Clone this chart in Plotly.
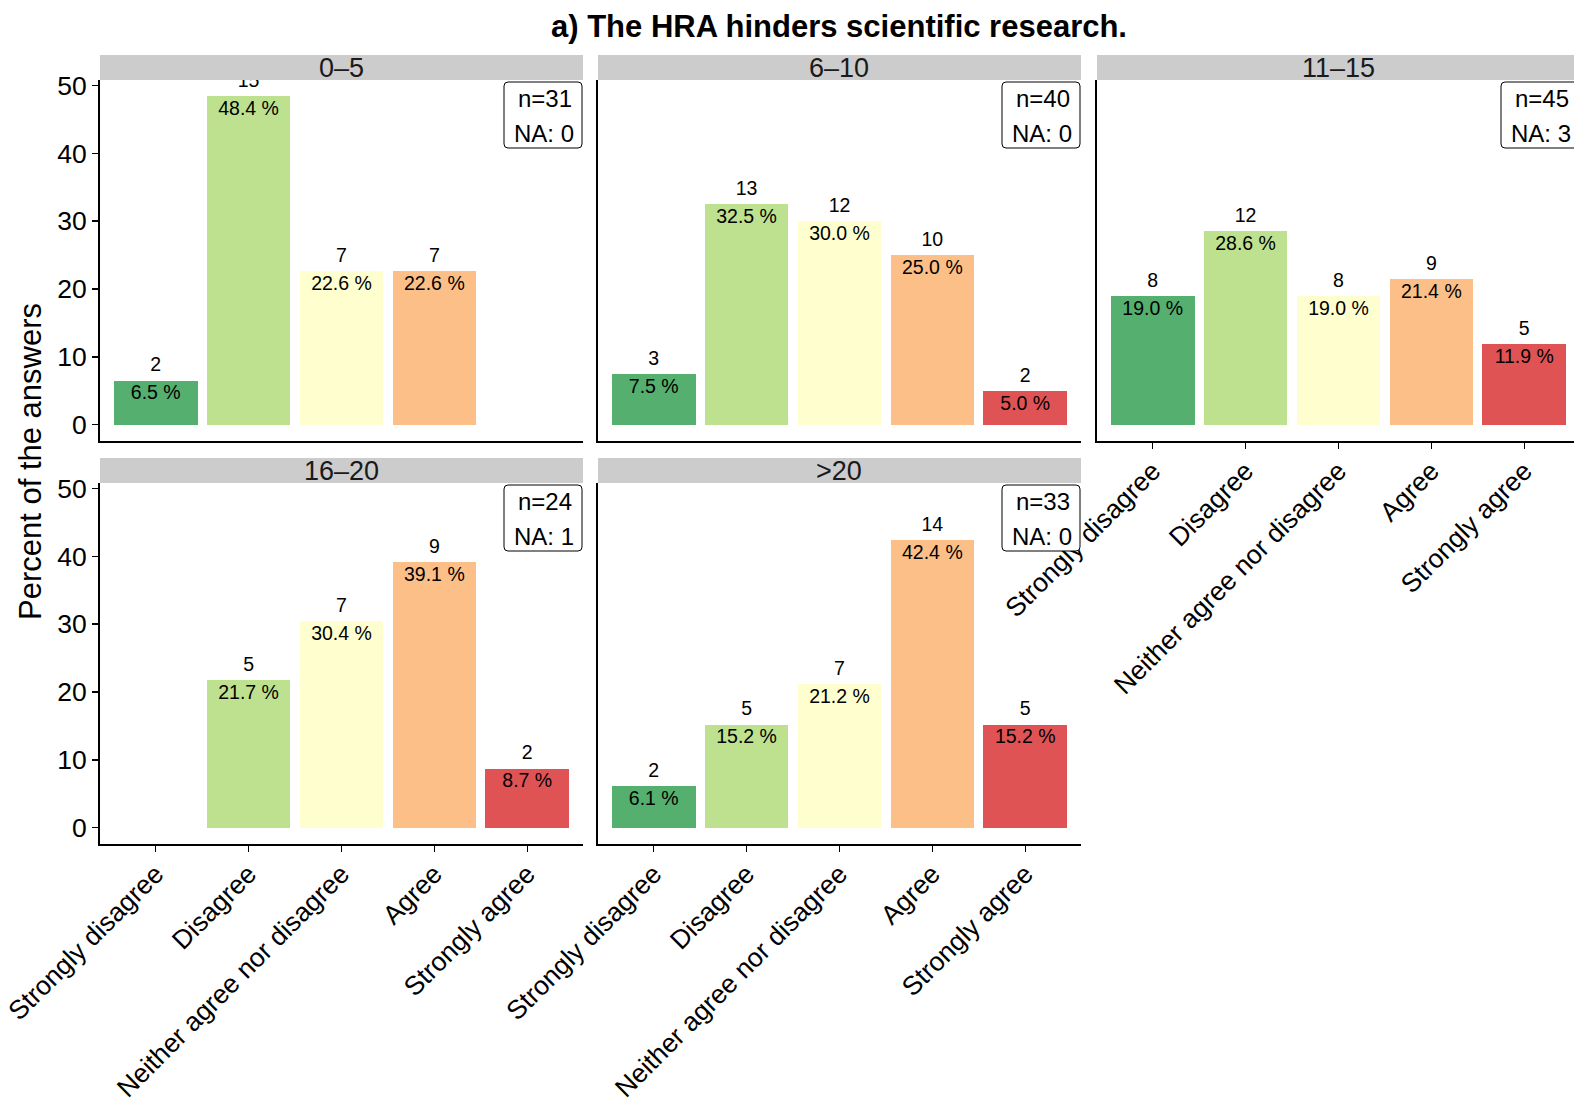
import plotly.graph_objects as go

W, H = 1574, 1102

categories = ["Strongly disagree", "Disagree", "Neither agree nor disagree", "Agree", "Strongly agree"]
colors = ["#55AF6E", "#BEE18F", "#FEFECE", "#FCBF87", "#E05355"]
panels = ["0–5", "6–10", "11–15", "16–20", ">20"]

counts_0_5 = [2, 15, 7, 7, None]
pct_0_5 = [6.5, 48.4, 22.6, 22.6, None]
counts_6_10 = [3, 13, 12, 10, 2]
pct_6_10 = [7.5, 32.5, 30.0, 25.0, 5.0]
counts_11_15 = [8, 12, 8, 9, 5]
pct_11_15 = [19.0, 28.6, 19.0, 21.4, 11.9]
counts_16_20 = [None, 5, 7, 9, 2]
pct_16_20 = [None, 21.7, 30.4, 39.1, 8.7]
counts_gt20 = [2, 5, 7, 14, 5]
pct_gt20 = [6.1, 15.2, 21.2, 42.4, 15.2]

n_total = [31, 40, 45, 24, 33]
n_na = [0, 0, 3, 1, 0]

all_counts = [counts_0_5, counts_6_10, counts_11_15, counts_16_20, counts_gt20]
all_pct = [pct_0_5, pct_6_10, pct_11_15, pct_16_20, pct_gt20]

title_text = "a) The HRA hinders scientific research."
y_title = "Percent of the answers"
y_ticks = [0, 10, 20, 30, 40, 50]

FONT = "Liberation Sans, Arial, sans-serif"
TICK_SIZE = 26.5
STRIP_SIZE = 27
LABEL_SIZE = 19.5
BOX_SIZE = 24


def X(px):
    return px / W


def Y(py):
    return 1 - py / H


# panel pixel geometry
col_lr = [(100, 583), (598, 1081), (1097, 1580)]
row_tb = [(80, 441), (483, 844)]
panel_pos = [(0, 0), (0, 1), (0, 2), (1, 0), (1, 1)]
units_per_px_x = 5.2 / 483.0

fig = go.Figure()
shapes = []
annotations = []

ymax = max(v for p in all_pct for v in p if v is not None)
yr = [-0.05 * ymax, ymax * 1.05]
upp_y = (yr[1] - yr[0]) / (row_tb[0][1] - row_tb[0][0])

for i, name in enumerate(panels):
    r, c = panel_pos[i]
    L, R = col_lr[c]
    T, B = row_tb[r]
    Rv = min(R, W)
    xa = "x" if i == 0 else f"x{i+1}"
    ya = "y" if i == 0 else f"y{i+1}"
    xs = [k + 1 for k in range(5)]
    pct = all_pct[i]
    cnt = all_counts[i]
    fig.add_trace(go.Bar(
        x=xs, y=pct, width=0.9, marker=dict(color=colors, line=dict(width=0)),
        xaxis=xa, yaxis=ya, showlegend=False, hoverinfo="skip"))
    tx = [x for x, v in zip(xs, pct) if v is not None]
    ty = [v for v in pct if v is not None]
    fig.add_trace(go.Scatter(
        x=tx, y=[v + 14 * upp_y for v in ty], mode="text",
        text=[str(v) for v in cnt if v is not None],
        textposition="middle center", textfont=dict(size=LABEL_SIZE, color="black", family=FONT),
        xaxis=xa, yaxis=ya, showlegend=False, hoverinfo="skip", cliponaxis=True))
    fig.add_trace(go.Scatter(
        x=tx, y=[v - 14 * upp_y for v in ty], mode="text",
        text=[f"{v:.1f} %" for v in ty],
        textposition="middle center", textfont=dict(size=LABEL_SIZE, color="black", family=FONT),
        xaxis=xa, yaxis=ya, showlegend=False, hoverinfo="skip", cliponaxis=True))

    xr_hi = 0.4 + (Rv - L) * units_per_px_x
    show_xlab = (r == 1) or (i == 2)
    xkey = "xaxis" if i == 0 else f"xaxis{i+1}"
    ykey = "yaxis" if i == 0 else f"yaxis{i+1}"
    fig.update_layout(**{
        xkey: dict(domain=[X(L), X(Rv)], anchor=ya, range=[0.4, xr_hi], automargin=False,
                   tickvals=xs, ticktext=categories,
                   showticklabels=show_xlab, ticks="outside" if show_xlab else "",
                   ticklen=6, tickwidth=1.5, tickcolor="black", tickangle=-45,
                   ticklabelstandoff=-4,
                   tickfont=dict(size=TICK_SIZE, color="black", family=FONT),
                   showline=True, linecolor="black", linewidth=2,
                   showgrid=False, zeroline=False, fixedrange=True),
        ykey: dict(domain=[Y(B), Y(T)], anchor=xa, range=yr, automargin=False,
                   tickvals=y_ticks, showticklabels=(c == 0),
                   ticks="outside" if c == 0 else "", ticklen=6, tickwidth=1.5, tickcolor="black",
                   tickfont=dict(size=TICK_SIZE, color="black", family=FONT),
                   showline=True, linecolor="black", linewidth=2,
                   showgrid=False, zeroline=False, fixedrange=True),
    })

    # strip
    shapes.append(dict(type="rect", xref="paper", yref="paper",
                       x0=X(L), x1=X(Rv), y0=Y(T), y1=Y(T - 25),
                       fillcolor="#CCCCCC", line=dict(width=0), layer="below"))
    annotations.append(dict(text=name, xref="paper", yref="paper",
                            x=X((L + R) / 2), y=Y(T - 12.5), showarrow=False,
                            xanchor="center", yanchor="middle",
                            font=dict(size=STRIP_SIZE, color="#1A1A1A", family=FONT)))

    # n / NA box (rounded rectangle)
    bx1, bx0 = R - 1, R - 79
    by0, by1 = T + 2, T + 68
    rad = 4
    path = (f"M {X(bx0+rad)},{Y(by0)} L {X(bx1-rad)},{Y(by0)} "
            f"Q {X(bx1)},{Y(by0)} {X(bx1)},{Y(by0+rad)} "
            f"L {X(bx1)},{Y(by1-rad)} Q {X(bx1)},{Y(by1)} {X(bx1-rad)},{Y(by1)} "
            f"L {X(bx0+rad)},{Y(by1)} Q {X(bx0)},{Y(by1)} {X(bx0)},{Y(by1-rad)} "
            f"L {X(bx0)},{Y(by0+rad)} Q {X(bx0)},{Y(by0)} {X(bx0+rad)},{Y(by0)} Z")
    shapes.append(dict(type="path", xref="paper", yref="paper", path=path,
                       fillcolor="white", line=dict(color="black", width=1), layer="above"))
    annotations.append(dict(text=f"n={n_total[i]}", xref="paper", yref="paper",
                            x=X(bx1 - 8), y=Y(by0 + 16), showarrow=False,
                            xanchor="right", yanchor="middle",
                            font=dict(size=BOX_SIZE, color="black", family=FONT)))
    annotations.append(dict(text=f"NA: {n_na[i]}", xref="paper", yref="paper",
                            x=X(bx1 - 6), y=Y(by0 + 51), showarrow=False,
                            xanchor="right", yanchor="middle",
                            font=dict(size=BOX_SIZE, color="black", family=FONT)))

annotations.append(dict(text=f"<b>{title_text}</b>", xref="paper", yref="paper",
                        x=X(839), y=Y(26), showarrow=False, xanchor="center", yanchor="middle",
                        font=dict(size=31, color="black", family=FONT)))
annotations.append(dict(text=y_title, xref="paper", yref="paper",
                        x=X(30), y=Y(462), showarrow=False, xanchor="center", yanchor="middle",
                        textangle=-90, font=dict(size=31, color="black", family=FONT)))

fig.update_layout(width=W, height=H, margin=dict(l=0, r=0, t=0, b=0, autoexpand=False),
                  template="none",
                  paper_bgcolor="white", plot_bgcolor="white",
                  shapes=shapes, annotations=annotations, bargap=0,
                  showlegend=False, font=dict(family=FONT))

fig.write_html("out.html", config={"displayModeBar": False, "staticPlot": True},
               post_script="document.body.style.margin='0';document.body.style.overflow='hidden';")
